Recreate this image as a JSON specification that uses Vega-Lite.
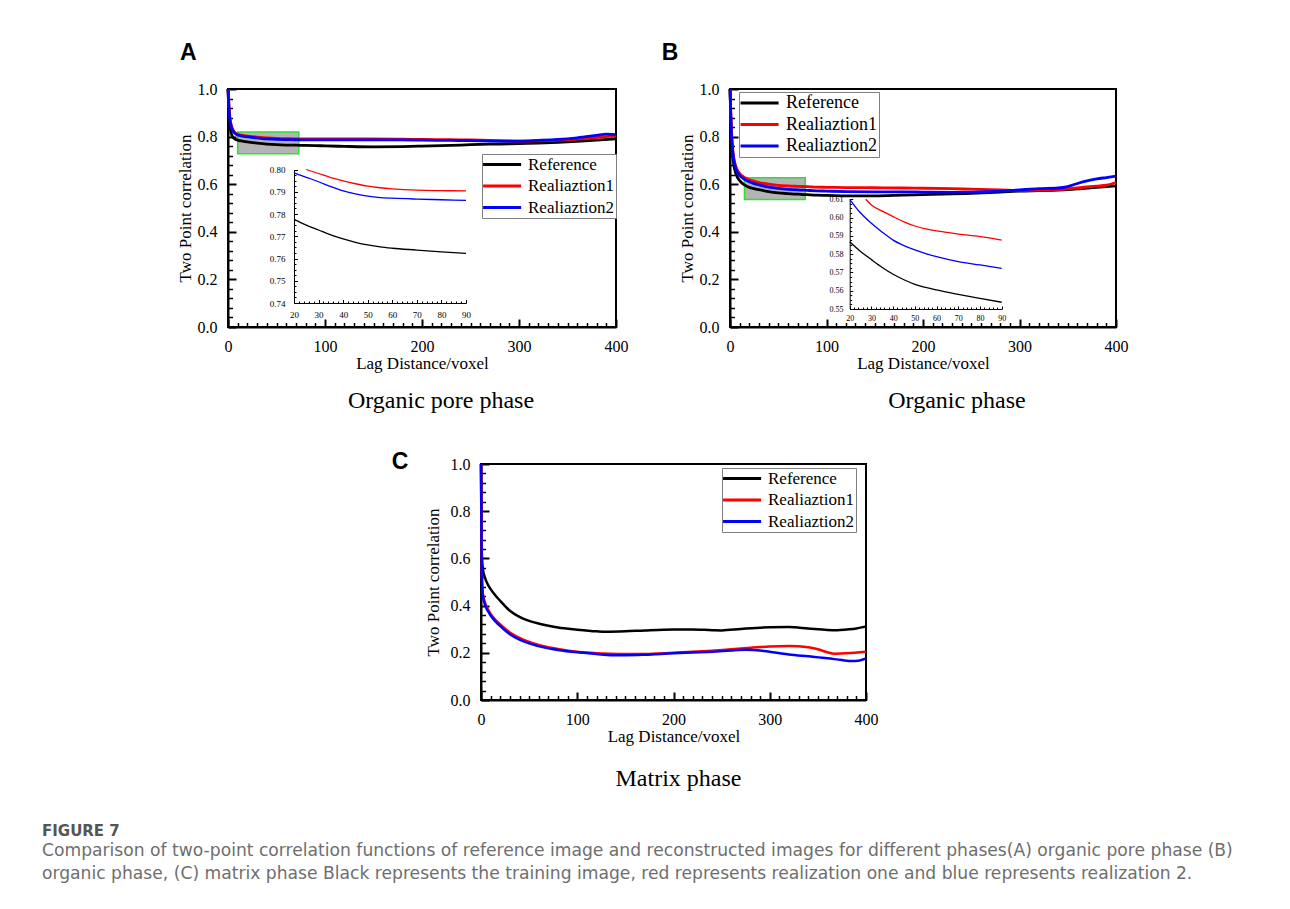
{
"$schema": "https://vega.github.io/schema/vega-lite/v6.json",
"autosize": {"type": "pad"},
"padding": {"left": 42, "top": 41, "right": 10, "bottom": 10},
"background": "white",
"datasets": {
"A_box": [{"x1": 10, "x2": 73, "y1": 0.728, "y2": 0.819}],
"B_box": [{"x1": 15, "x2": 78, "y1": 0.536, "y2": 0.627}],
"A_main": [
{"s":"Reference","x":0,"y":1.0},{"s":"Reference","x":1,"y":0.90},{"s":"Reference","x":2,"y":0.85},{"s":"Reference","x":3,"y":0.82},{"s":"Reference","x":4,"y":0.806},{"s":"Reference","x":5,"y":0.798},{"s":"Reference","x":7,"y":0.79},{"s":"Reference","x":10,"y":0.785},{"s":"Reference","x":15,"y":0.781},{"s":"Reference","x":20,"y":0.7776},{"s":"Reference","x":30,"y":0.7728},{"s":"Reference","x":40,"y":0.7688},{"s":"Reference","x":50,"y":0.7661},{"s":"Reference","x":60,"y":0.7646},{"s":"Reference","x":70,"y":0.7638},{"s":"Reference","x":80,"y":0.763},{"s":"Reference","x":90,"y":0.7623},{"s":"Reference","x":100,"y":0.761},{"s":"Reference","x":120,"y":0.759},{"s":"Reference","x":150,"y":0.757},{"s":"Reference","x":180,"y":0.758},{"s":"Reference","x":200,"y":0.760},{"s":"Reference","x":230,"y":0.763},{"s":"Reference","x":250,"y":0.766},{"s":"Reference","x":280,"y":0.769},{"s":"Reference","x":300,"y":0.771},{"s":"Reference","x":320,"y":0.773},{"s":"Reference","x":340,"y":0.776},{"s":"Reference","x":360,"y":0.780},{"s":"Reference","x":380,"y":0.785},{"s":"Reference","x":400,"y":0.791},
{"s":"Realiaztion1","x":0,"y":1.0},{"s":"Realiaztion1","x":1,"y":0.93},{"s":"Realiaztion1","x":2,"y":0.88},{"s":"Realiaztion1","x":3,"y":0.855},{"s":"Realiaztion1","x":4,"y":0.84},{"s":"Realiaztion1","x":5,"y":0.83},{"s":"Realiaztion1","x":7,"y":0.818},{"s":"Realiaztion1","x":10,"y":0.81},{"s":"Realiaztion1","x":15,"y":0.805},{"s":"Realiaztion1","x":20,"y":0.8015},{"s":"Realiaztion1","x":25,"y":0.8},{"s":"Realiaztion1","x":30,"y":0.7982},{"s":"Realiaztion1","x":40,"y":0.7949},{"s":"Realiaztion1","x":50,"y":0.7925},{"s":"Realiaztion1","x":60,"y":0.7913},{"s":"Realiaztion1","x":70,"y":0.7907},{"s":"Realiaztion1","x":80,"y":0.7905},{"s":"Realiaztion1","x":90,"y":0.7904},{"s":"Realiaztion1","x":100,"y":0.790},{"s":"Realiaztion1","x":120,"y":0.790},{"s":"Realiaztion1","x":150,"y":0.790},{"s":"Realiaztion1","x":180,"y":0.789},{"s":"Realiaztion1","x":200,"y":0.788},{"s":"Realiaztion1","x":230,"y":0.787},{"s":"Realiaztion1","x":250,"y":0.786},{"s":"Realiaztion1","x":280,"y":0.783},{"s":"Realiaztion1","x":300,"y":0.781},{"s":"Realiaztion1","x":320,"y":0.782},{"s":"Realiaztion1","x":340,"y":0.785},{"s":"Realiaztion1","x":360,"y":0.790},{"s":"Realiaztion1","x":380,"y":0.796},{"s":"Realiaztion1","x":390,"y":0.8},{"s":"Realiaztion1","x":400,"y":0.803},
{"s":"Realiaztion2","x":0,"y":1.0},{"s":"Realiaztion2","x":1,"y":0.92},{"s":"Realiaztion2","x":2,"y":0.87},{"s":"Realiaztion2","x":3,"y":0.848},{"s":"Realiaztion2","x":4,"y":0.834},{"s":"Realiaztion2","x":5,"y":0.825},{"s":"Realiaztion2","x":7,"y":0.814},{"s":"Realiaztion2","x":10,"y":0.807},{"s":"Realiaztion2","x":15,"y":0.802},{"s":"Realiaztion2","x":20,"y":0.7985},{"s":"Realiaztion2","x":30,"y":0.7945},{"s":"Realiaztion2","x":40,"y":0.7904},{"s":"Realiaztion2","x":50,"y":0.788},{"s":"Realiaztion2","x":60,"y":0.7871},{"s":"Realiaztion2","x":70,"y":0.7867},{"s":"Realiaztion2","x":80,"y":0.7864},{"s":"Realiaztion2","x":90,"y":0.7861},{"s":"Realiaztion2","x":100,"y":0.786},{"s":"Realiaztion2","x":120,"y":0.786},{"s":"Realiaztion2","x":150,"y":0.786},{"s":"Realiaztion2","x":180,"y":0.786},{"s":"Realiaztion2","x":200,"y":0.785},{"s":"Realiaztion2","x":230,"y":0.784},{"s":"Realiaztion2","x":250,"y":0.783},{"s":"Realiaztion2","x":280,"y":0.781},{"s":"Realiaztion2","x":300,"y":0.781},{"s":"Realiaztion2","x":320,"y":0.784},{"s":"Realiaztion2","x":340,"y":0.788},{"s":"Realiaztion2","x":360,"y":0.795},{"s":"Realiaztion2","x":380,"y":0.805},{"s":"Realiaztion2","x":390,"y":0.81},{"s":"Realiaztion2","x":400,"y":0.808}
],
"A_inset": [
{"s":"Reference","x":20,"y":0.7776},{"s":"Reference","x":25,"y":0.775},{"s":"Reference","x":30,"y":0.7728},{"s":"Reference","x":35,"y":0.7706},{"s":"Reference","x":40,"y":0.7688},{"s":"Reference","x":45,"y":0.7673},{"s":"Reference","x":50,"y":0.7661},{"s":"Reference","x":55,"y":0.7652},{"s":"Reference","x":60,"y":0.7646},{"s":"Reference","x":70,"y":0.7638},{"s":"Reference","x":80,"y":0.763},{"s":"Reference","x":90,"y":0.7623},
{"s":"Realiaztion1","x":25,"y":0.8},{"s":"Realiaztion1","x":30,"y":0.7982},{"s":"Realiaztion1","x":35,"y":0.7964},{"s":"Realiaztion1","x":40,"y":0.7949},{"s":"Realiaztion1","x":45,"y":0.7936},{"s":"Realiaztion1","x":50,"y":0.7925},{"s":"Realiaztion1","x":55,"y":0.7918},{"s":"Realiaztion1","x":60,"y":0.7913},{"s":"Realiaztion1","x":70,"y":0.7907},{"s":"Realiaztion1","x":80,"y":0.7905},{"s":"Realiaztion1","x":90,"y":0.7904},
{"s":"Realiaztion2","x":20,"y":0.7985},{"s":"Realiaztion2","x":25,"y":0.7965},{"s":"Realiaztion2","x":30,"y":0.7945},{"s":"Realiaztion2","x":35,"y":0.7923},{"s":"Realiaztion2","x":40,"y":0.7904},{"s":"Realiaztion2","x":45,"y":0.789},{"s":"Realiaztion2","x":50,"y":0.788},{"s":"Realiaztion2","x":55,"y":0.7874},{"s":"Realiaztion2","x":60,"y":0.7871},{"s":"Realiaztion2","x":70,"y":0.7867},{"s":"Realiaztion2","x":80,"y":0.7864},{"s":"Realiaztion2","x":90,"y":0.7861}
],
"B_main": [
{"s":"Reference","x":0,"y":1.0},{"s":"Reference","x":1,"y":0.85},{"s":"Reference","x":2,"y":0.76},{"s":"Reference","x":3,"y":0.71},{"s":"Reference","x":4,"y":0.68},{"s":"Reference","x":5,"y":0.66},{"s":"Reference","x":7,"y":0.635},{"s":"Reference","x":10,"y":0.615},{"s":"Reference","x":15,"y":0.597},{"s":"Reference","x":20,"y":0.5868},{"s":"Reference","x":25,"y":0.5815},{"s":"Reference","x":30,"y":0.577},{"s":"Reference","x":40,"y":0.569},{"s":"Reference","x":50,"y":0.5635},{"s":"Reference","x":60,"y":0.5604},{"s":"Reference","x":70,"y":0.558},{"s":"Reference","x":80,"y":0.5558},{"s":"Reference","x":90,"y":0.5537},{"s":"Reference","x":100,"y":0.553},{"s":"Reference","x":120,"y":0.551},{"s":"Reference","x":150,"y":0.551},{"s":"Reference","x":180,"y":0.554},{"s":"Reference","x":200,"y":0.556},{"s":"Reference","x":230,"y":0.559},{"s":"Reference","x":250,"y":0.562},{"s":"Reference","x":280,"y":0.567},{"s":"Reference","x":300,"y":0.571},{"s":"Reference","x":320,"y":0.573},{"s":"Reference","x":340,"y":0.575},{"s":"Reference","x":360,"y":0.58},{"s":"Reference","x":380,"y":0.587},{"s":"Reference","x":400,"y":0.593},
{"s":"Realiaztion1","x":0,"y":1.0},{"s":"Realiaztion1","x":1,"y":0.88},{"s":"Realiaztion1","x":2,"y":0.79},{"s":"Realiaztion1","x":3,"y":0.74},{"s":"Realiaztion1","x":4,"y":0.71},{"s":"Realiaztion1","x":5,"y":0.69},{"s":"Realiaztion1","x":7,"y":0.665},{"s":"Realiaztion1","x":10,"y":0.645},{"s":"Realiaztion1","x":15,"y":0.628},{"s":"Realiaztion1","x":20,"y":0.618},{"s":"Realiaztion1","x":25,"y":0.613},{"s":"Realiaztion1","x":30,"y":0.6069},{"s":"Realiaztion1","x":40,"y":0.6005},{"s":"Realiaztion1","x":50,"y":0.5954},{"s":"Realiaztion1","x":60,"y":0.5927},{"s":"Realiaztion1","x":70,"y":0.591},{"s":"Realiaztion1","x":80,"y":0.5896},{"s":"Realiaztion1","x":90,"y":0.5877},{"s":"Realiaztion1","x":100,"y":0.587},{"s":"Realiaztion1","x":120,"y":0.586},{"s":"Realiaztion1","x":150,"y":0.585},{"s":"Realiaztion1","x":180,"y":0.584},{"s":"Realiaztion1","x":200,"y":0.583},{"s":"Realiaztion1","x":230,"y":0.581},{"s":"Realiaztion1","x":250,"y":0.579},{"s":"Realiaztion1","x":280,"y":0.576},{"s":"Realiaztion1","x":300,"y":0.574},{"s":"Realiaztion1","x":320,"y":0.574},{"s":"Realiaztion1","x":340,"y":0.577},{"s":"Realiaztion1","x":360,"y":0.585},{"s":"Realiaztion1","x":380,"y":0.592},{"s":"Realiaztion1","x":390,"y":0.596},{"s":"Realiaztion1","x":400,"y":0.607},
{"s":"Realiaztion2","x":0,"y":1.0},{"s":"Realiaztion2","x":1,"y":0.87},{"s":"Realiaztion2","x":2,"y":0.78},{"s":"Realiaztion2","x":3,"y":0.73},{"s":"Realiaztion2","x":4,"y":0.70},{"s":"Realiaztion2","x":5,"y":0.68},{"s":"Realiaztion2","x":7,"y":0.655},{"s":"Realiaztion2","x":10,"y":0.637},{"s":"Realiaztion2","x":15,"y":0.62},{"s":"Realiaztion2","x":20,"y":0.61},{"s":"Realiaztion2","x":25,"y":0.6025},{"s":"Realiaztion2","x":30,"y":0.5969},{"s":"Realiaztion2","x":40,"y":0.5877},{"s":"Realiaztion2","x":50,"y":0.5823},{"s":"Realiaztion2","x":60,"y":0.5786},{"s":"Realiaztion2","x":70,"y":0.5759},{"s":"Realiaztion2","x":80,"y":0.5741},{"s":"Realiaztion2","x":90,"y":0.5722},{"s":"Realiaztion2","x":100,"y":0.571},{"s":"Realiaztion2","x":120,"y":0.569},{"s":"Realiaztion2","x":150,"y":0.568},{"s":"Realiaztion2","x":180,"y":0.568},{"s":"Realiaztion2","x":200,"y":0.567},{"s":"Realiaztion2","x":230,"y":0.566},{"s":"Realiaztion2","x":250,"y":0.567},{"s":"Realiaztion2","x":280,"y":0.571},{"s":"Realiaztion2","x":300,"y":0.576},{"s":"Realiaztion2","x":320,"y":0.581},{"s":"Realiaztion2","x":340,"y":0.584},{"s":"Realiaztion2","x":350,"y":0.59},{"s":"Realiaztion2","x":360,"y":0.603},{"s":"Realiaztion2","x":370,"y":0.614},{"s":"Realiaztion2","x":380,"y":0.622},{"s":"Realiaztion2","x":390,"y":0.628},{"s":"Realiaztion2","x":400,"y":0.634}
],
"B_inset": [
{"s":"Reference","x":20,"y":0.5868},{"s":"Reference","x":25,"y":0.5815},{"s":"Reference","x":30,"y":0.577},{"s":"Reference","x":35,"y":0.5727},{"s":"Reference","x":40,"y":0.569},{"s":"Reference","x":45,"y":0.566},{"s":"Reference","x":50,"y":0.5635},{"s":"Reference","x":55,"y":0.5618},{"s":"Reference","x":60,"y":0.5604},{"s":"Reference","x":70,"y":0.558},{"s":"Reference","x":80,"y":0.5558},{"s":"Reference","x":90,"y":0.5537},
{"s":"Realiaztion1","x":27.4,"y":0.61},{"s":"Realiaztion1","x":30,"y":0.6069},{"s":"Realiaztion1","x":35,"y":0.6035},{"s":"Realiaztion1","x":40,"y":0.6005},{"s":"Realiaztion1","x":45,"y":0.5977},{"s":"Realiaztion1","x":50,"y":0.5954},{"s":"Realiaztion1","x":55,"y":0.5938},{"s":"Realiaztion1","x":60,"y":0.5927},{"s":"Realiaztion1","x":70,"y":0.591},{"s":"Realiaztion1","x":80,"y":0.5896},{"s":"Realiaztion1","x":90,"y":0.5877},
{"s":"Realiaztion2","x":20,"y":0.61},{"s":"Realiaztion2","x":25,"y":0.6025},{"s":"Realiaztion2","x":30,"y":0.5969},{"s":"Realiaztion2","x":35,"y":0.592},{"s":"Realiaztion2","x":40,"y":0.5877},{"s":"Realiaztion2","x":45,"y":0.5847},{"s":"Realiaztion2","x":50,"y":0.5823},{"s":"Realiaztion2","x":55,"y":0.5803},{"s":"Realiaztion2","x":60,"y":0.5786},{"s":"Realiaztion2","x":70,"y":0.5759},{"s":"Realiaztion2","x":80,"y":0.5741},{"s":"Realiaztion2","x":90,"y":0.5722}
],
"C_main": [
{"s":"Reference","x":0,"y":1.0},{"s":"Reference","x":0.5,"y":0.75},{"s":"Reference","x":1,"y":0.6},{"s":"Reference","x":2,"y":0.555},{"s":"Reference","x":4,"y":0.52},{"s":"Reference","x":7,"y":0.49},{"s":"Reference","x":10,"y":0.47},{"s":"Reference","x":15,"y":0.443},{"s":"Reference","x":20,"y":0.42},{"s":"Reference","x":30,"y":0.378},{"s":"Reference","x":40,"y":0.352},{"s":"Reference","x":50,"y":0.335},{"s":"Reference","x":65,"y":0.319},{"s":"Reference","x":80,"y":0.307},{"s":"Reference","x":100,"y":0.298},{"s":"Reference","x":120,"y":0.291},{"s":"Reference","x":130,"y":0.289},{"s":"Reference","x":150,"y":0.291},{"s":"Reference","x":170,"y":0.295},{"s":"Reference","x":200,"y":0.299},{"s":"Reference","x":220,"y":0.299},{"s":"Reference","x":240,"y":0.296},{"s":"Reference","x":250,"y":0.295},{"s":"Reference","x":270,"y":0.301},{"s":"Reference","x":300,"y":0.308},{"s":"Reference","x":320,"y":0.309},{"s":"Reference","x":340,"y":0.303},{"s":"Reference","x":360,"y":0.297},{"s":"Reference","x":370,"y":0.296},{"s":"Reference","x":380,"y":0.299},{"s":"Reference","x":390,"y":0.303},{"s":"Reference","x":400,"y":0.312},
{"s":"Realiaztion1","x":0,"y":1.0},{"s":"Realiaztion1","x":0.5,"y":0.7},{"s":"Realiaztion1","x":1,"y":0.52},{"s":"Realiaztion1","x":2,"y":0.45},{"s":"Realiaztion1","x":4,"y":0.415},{"s":"Realiaztion1","x":7,"y":0.385},{"s":"Realiaztion1","x":10,"y":0.365},{"s":"Realiaztion1","x":15,"y":0.34},{"s":"Realiaztion1","x":20,"y":0.32},{"s":"Realiaztion1","x":30,"y":0.286},{"s":"Realiaztion1","x":40,"y":0.263},{"s":"Realiaztion1","x":50,"y":0.246},{"s":"Realiaztion1","x":65,"y":0.228},{"s":"Realiaztion1","x":80,"y":0.216},{"s":"Realiaztion1","x":100,"y":0.204},{"s":"Realiaztion1","x":120,"y":0.198},{"s":"Realiaztion1","x":135,"y":0.196},{"s":"Realiaztion1","x":150,"y":0.195},{"s":"Realiaztion1","x":170,"y":0.195},{"s":"Realiaztion1","x":200,"y":0.2},{"s":"Realiaztion1","x":220,"y":0.204},{"s":"Realiaztion1","x":240,"y":0.209},{"s":"Realiaztion1","x":260,"y":0.215},{"s":"Realiaztion1","x":280,"y":0.221},{"s":"Realiaztion1","x":300,"y":0.227},{"s":"Realiaztion1","x":320,"y":0.229},{"s":"Realiaztion1","x":340,"y":0.224},{"s":"Realiaztion1","x":350,"y":0.215},{"s":"Realiaztion1","x":360,"y":0.202},{"s":"Realiaztion1","x":367,"y":0.196},{"s":"Realiaztion1","x":380,"y":0.198},{"s":"Realiaztion1","x":400,"y":0.204},
{"s":"Realiaztion2","x":0,"y":1.0},{"s":"Realiaztion2","x":0.5,"y":0.68},{"s":"Realiaztion2","x":1,"y":0.5},{"s":"Realiaztion2","x":2,"y":0.44},{"s":"Realiaztion2","x":4,"y":0.405},{"s":"Realiaztion2","x":7,"y":0.378},{"s":"Realiaztion2","x":10,"y":0.358},{"s":"Realiaztion2","x":15,"y":0.333},{"s":"Realiaztion2","x":20,"y":0.313},{"s":"Realiaztion2","x":30,"y":0.279},{"s":"Realiaztion2","x":40,"y":0.256},{"s":"Realiaztion2","x":50,"y":0.24},{"s":"Realiaztion2","x":65,"y":0.223},{"s":"Realiaztion2","x":80,"y":0.212},{"s":"Realiaztion2","x":100,"y":0.202},{"s":"Realiaztion2","x":120,"y":0.195},{"s":"Realiaztion2","x":135,"y":0.19},{"s":"Realiaztion2","x":150,"y":0.19},{"s":"Realiaztion2","x":170,"y":0.192},{"s":"Realiaztion2","x":200,"y":0.198},{"s":"Realiaztion2","x":220,"y":0.201},{"s":"Realiaztion2","x":240,"y":0.204},{"s":"Realiaztion2","x":260,"y":0.21},{"s":"Realiaztion2","x":275,"y":0.213},{"s":"Realiaztion2","x":290,"y":0.21},{"s":"Realiaztion2","x":300,"y":0.204},{"s":"Realiaztion2","x":320,"y":0.193},{"s":"Realiaztion2","x":340,"y":0.185},{"s":"Realiaztion2","x":360,"y":0.177},{"s":"Realiaztion2","x":375,"y":0.169},{"s":"Realiaztion2","x":385,"y":0.165},{"s":"Realiaztion2","x":392,"y":0.166},{"s":"Realiaztion2","x":400,"y":0.176}
]
},
"vconcat": [
{
"hconcat": [
{
"width": 388, "height": 238,
"title": {"text": "Organic pore phase", "orient": "bottom", "frame": "group", "anchor": "middle", "dx": 19, "offset": 18, "font": "Liberation Serif", "fontSize": 24, "fontWeight": "normal", "color": "#000000"},
"layer": [
{
"layer": [
{"data": {"name": "A_box"}, "mark": {"type": "rect", "fill": "#b4b4b4", "stroke": "#2ee02e", "strokeWidth": 1.5},
 "encoding": {
  "x": {"field": "x1", "type": "quantitative", "scale": {"domain": [0, 400], "nice": false, "zero": false}, "axis": null},
  "x2": {"field": "x2"},
  "y": {"field": "y1", "type": "quantitative", "scale": {"domain": [0, 1], "nice": false, "zero": false}, "axis": null},
  "y2": {"field": "y2"}}},
{"data": {"name": "A_main"}, "mark": {"type": "line", "strokeWidth": 2.8, "interpolate": "monotone"},
 "encoding": {
  "x": {"field": "x", "type": "quantitative", "scale": {"domain": [0, 400], "nice": false, "zero": false},
        "axis": {"orient": "bottom", "values": [0, 100, 200, 300, 400], "format": "d", "title": "Lag Distance/voxel", "tickSize": -8, "labelPadding": 19, "titlePadding": 1}},
  "y": {"field": "y", "type": "quantitative", "scale": {"domain": [0, 1], "nice": false, "zero": false},
        "axis": {"orient": "left", "values": [0, 0.2, 0.4, 0.6, 0.8, 1], "format": ".1f", "title": "Two Point correlation", "tickSize": -8, "labelPadding": 19, "titlePadding": 3}},
  "color": {"field": "s", "type": "nominal", "scale": {"domain": ["Reference", "Realiaztion1", "Realiaztion2"], "range": ["#000000", "#ff0000", "#0000ff"]},
        "legend": {"orient": "none", "legendX": 254, "legendY": 65, "labelFontSize": 17}}}},
{"data": {"values": [{"label": "A"}]}, "mark": {"type": "text", "font": "Liberation Sans", "fontWeight": "bold", "fontSize": 23, "align": "center", "baseline": "middle", "color": "#000000"},
 "encoding": {
  "text": {"field": "label"},
  "x": {"datum": -41, "type": "quantitative", "scale": {"domain": [0, 400], "nice": false, "zero": false},
        "axis": {"orient": "bottom", "values": [10,20,30,40,50,60,70,80,90,110,120,130,140,150,160,170,180,190,210,220,230,240,250,260,270,280,290,310,320,330,340,350,360,370,380,390], "labels": false, "domain": false, "tickSize": -4.5, "tickWidth": 1.5, "title": null}},
  "y": {"datum": 1.15, "type": "quantitative", "scale": {"domain": [0, 1], "nice": false, "zero": false},
        "axis": {"orient": "left", "values": [0.04,0.08,0.12,0.16,0.24,0.28,0.32,0.36,0.44,0.48,0.52,0.56,0.64,0.68,0.72,0.76,0.84,0.88,0.92,0.96], "labels": false, "domain": false, "tickSize": -4.5, "tickWidth": 1.5, "title": null}}}}
],
"resolve": {"axis": {"x": "independent", "y": "independent"}}
},
{
"layer": [
{"data": {"name": "A_inset"}, "mark": {"type": "line", "strokeWidth": 1.3, "interpolate": "monotone"},
 "encoding": {
  "x": {"field": "x", "type": "quantitative", "scale": {"domain": [20, 90], "range": [66, 238], "nice": false, "zero": false},
        "axis": {"orient": "bottom", "offset": -24, "values": [20,30,40,50,60,70,80,90], "format": "d", "title": null, "labelFontSize": 9, "tickSize": -3.5, "tickWidth": 1, "domainWidth": 1, "labelPadding": 11}},
  "y": {"field": "y", "type": "quantitative", "scale": {"domain": [0.74, 0.8], "range": [214, 80.5], "nice": false, "zero": false},
        "axis": {"orient": "left", "offset": -66, "values": [0.74,0.75,0.76,0.77,0.78,0.79,0.8], "format": ".2f", "title": null, "labelFontSize": 9, "tickSize": -3.5, "tickWidth": 1, "domainWidth": 1, "labelPadding": 12.5}},
  "color": {"field": "s", "type": "nominal", "scale": {"domain": ["Reference", "Realiaztion1", "Realiaztion2"], "range": ["#000000", "#ff0000", "#0000ff"]}, "legend": null}}},
{"data": {"values": [{"label": ""}]}, "mark": {"type": "text"},
 "encoding": {
  "text": {"field": "label"},
  "x": {"datum": 20, "type": "quantitative", "scale": {"domain": [20, 90], "range": [66, 238], "nice": false, "zero": false},
        "axis": {"orient": "bottom", "offset": -24, "values": [22,24,26,28,32,34,36,38,42,44,46,48,52,54,56,58,62,64,66,68,72,74,76,78,82,84,86,88], "labels": false, "domain": false, "tickSize": -2, "tickWidth": 1, "title": null}},
  "y": {"datum": 0.74, "type": "quantitative", "scale": {"domain": [0.74, 0.8], "range": [214, 80.5], "nice": false, "zero": false},
        "axis": {"orient": "left", "offset": -66, "values": [0.7425,0.745,0.7475,0.7525,0.755,0.7575,0.7625,0.765,0.7675,0.7725,0.775,0.7775,0.7825,0.785,0.7875,0.7925,0.795,0.7975], "labels": false, "domain": false, "tickSize": -2, "tickWidth": 1, "title": null}}}}
],
"resolve": {"axis": {"x": "independent", "y": "independent"}}
}
],
"resolve": {"scale": {"x": "independent", "y": "independent", "color": "independent"}, "axis": {"x": "independent", "y": "independent"}, "legend": {"color": "independent"}}
},
{
"width": 386, "height": 238,
"title": {"text": "Organic phase", "orient": "bottom", "frame": "group", "anchor": "middle", "dx": 34, "offset": 18, "font": "Liberation Serif", "fontSize": 24, "fontWeight": "normal", "color": "#000000"},
"layer": [
{
"layer": [
{"data": {"name": "B_box"}, "mark": {"type": "rect", "fill": "#b4b4b4", "stroke": "#2ee02e", "strokeWidth": 1.5},
 "encoding": {
  "x": {"field": "x1", "type": "quantitative", "scale": {"domain": [0, 400], "nice": false, "zero": false}, "axis": null},
  "x2": {"field": "x2"},
  "y": {"field": "y1", "type": "quantitative", "scale": {"domain": [0, 1], "nice": false, "zero": false}, "axis": null},
  "y2": {"field": "y2"}}},
{"data": {"name": "B_main"}, "mark": {"type": "line", "strokeWidth": 2.8, "interpolate": "monotone"},
 "encoding": {
  "x": {"field": "x", "type": "quantitative", "scale": {"domain": [0, 400], "nice": false, "zero": false},
        "axis": {"orient": "bottom", "values": [0, 100, 200, 300, 400], "format": "d", "title": "Lag Distance/voxel", "tickSize": -8, "labelPadding": 19, "titlePadding": 1}},
  "y": {"field": "y", "type": "quantitative", "scale": {"domain": [0, 1], "nice": false, "zero": false},
        "axis": {"orient": "left", "values": [0, 0.2, 0.4, 0.6, 0.8, 1], "format": ".1f", "title": "Two Point correlation", "tickSize": -8, "labelPadding": 19, "titlePadding": 3}},
  "color": {"field": "s", "type": "nominal", "scale": {"domain": ["Reference", "Realiaztion1", "Realiaztion2"], "range": ["#000000", "#ff0000", "#0000ff"]},
        "legend": {"orient": "none", "legendX": 9, "legendY": 3, "labelFontSize": 18}}}},
{"data": {"values": [{"label": "B"}]}, "mark": {"type": "text", "font": "Liberation Sans", "fontWeight": "bold", "fontSize": 23, "align": "center", "baseline": "middle", "color": "#000000"},
 "encoding": {
  "text": {"field": "label"},
  "x": {"datum": -62, "type": "quantitative", "scale": {"domain": [0, 400], "nice": false, "zero": false},
        "axis": {"orient": "bottom", "values": [10,20,30,40,50,60,70,80,90,110,120,130,140,150,160,170,180,190,210,220,230,240,250,260,270,280,290,310,320,330,340,350,360,370,380,390], "labels": false, "domain": false, "tickSize": -4.5, "tickWidth": 1.5, "title": null}},
  "y": {"datum": 1.15, "type": "quantitative", "scale": {"domain": [0, 1], "nice": false, "zero": false},
        "axis": {"orient": "left", "values": [0.04,0.08,0.12,0.16,0.24,0.28,0.32,0.36,0.44,0.48,0.52,0.56,0.64,0.68,0.72,0.76,0.84,0.88,0.92,0.96], "labels": false, "domain": false, "tickSize": -4.5, "tickWidth": 1.5, "title": null}}}}
],
"resolve": {"axis": {"x": "independent", "y": "independent"}}
},
{
"layer": [
{"data": {"name": "B_inset"}, "mark": {"type": "line", "strokeWidth": 1.3, "interpolate": "monotone"},
 "encoding": {
  "x": {"field": "x", "type": "quantitative", "scale": {"domain": [20, 90], "range": [119.7, 271.7], "nice": false, "zero": false},
        "axis": {"orient": "bottom", "offset": -18, "values": [20,30,40,50,60,70,80,90], "format": "d", "title": null, "labelFontSize": 8, "tickSize": -3, "tickWidth": 1, "domainWidth": 1, "labelPadding": 8.5}},
  "y": {"field": "y", "type": "quantitative", "scale": {"domain": [0.55, 0.61], "range": [220, 110.3], "nice": false, "zero": false},
        "axis": {"orient": "left", "offset": -119.7, "values": [0.55,0.56,0.57,0.58,0.59,0.6,0.61], "format": ".2f", "title": null, "labelFontSize": 8, "tickSize": -3, "tickWidth": 1, "domainWidth": 1, "labelPadding": 9.7}},
  "color": {"field": "s", "type": "nominal", "scale": {"domain": ["Reference", "Realiaztion1", "Realiaztion2"], "range": ["#000000", "#ff0000", "#0000ff"]}, "legend": null}}},
{"data": {"values": [{"label": ""}]}, "mark": {"type": "text"},
 "encoding": {
  "text": {"field": "label"},
  "x": {"datum": 20, "type": "quantitative", "scale": {"domain": [20, 90], "range": [119.7, 271.7], "nice": false, "zero": false},
        "axis": {"orient": "bottom", "offset": -18, "values": [22,24,26,28,32,34,36,38,42,44,46,48,52,54,56,58,62,64,66,68,72,74,76,78,82,84,86,88], "labels": false, "domain": false, "tickSize": -2, "tickWidth": 1, "title": null}},
  "y": {"datum": 0.55, "type": "quantitative", "scale": {"domain": [0.55, 0.61], "range": [220, 110.3], "nice": false, "zero": false},
        "axis": {"orient": "left", "offset": -119.7, "values": [0.5525,0.555,0.5575,0.5625,0.565,0.5675,0.5725,0.575,0.5775,0.5825,0.585,0.5875,0.5925,0.595,0.5975,0.6025,0.605,0.6075], "labels": false, "domain": false, "tickSize": -2, "tickWidth": 1, "title": null}}}}
],
"resolve": {"axis": {"x": "independent", "y": "independent"}}
}
],
"resolve": {"scale": {"x": "independent", "y": "independent", "color": "independent"}, "axis": {"x": "independent", "y": "independent"}, "legend": {"color": "independent"}}
}
],
"spacing": 31,
"resolve": {"scale": {"color": "independent"}, "legend": {"color": "independent"}}
},
{
"hconcat": [
{"width": 162, "height": 10, "view": {"stroke": null}, "data": {"values": []}, "mark": "point"},
{
"width": 385, "height": 236,
"title": {"text": "Matrix phase", "orient": "bottom", "frame": "group", "anchor": "middle", "dx": 5, "offset": 23, "font": "Liberation Serif", "fontSize": 24, "fontWeight": "normal", "color": "#000000"},
"layer": [
{"data": {"name": "C_main"}, "mark": {"type": "line", "strokeWidth": 2.5, "interpolate": "monotone"},
 "encoding": {
  "x": {"field": "x", "type": "quantitative", "scale": {"domain": [0, 400], "nice": false, "zero": false},
        "axis": {"orient": "bottom", "values": [0, 100, 200, 300, 400], "format": "d", "title": "Lag Distance/voxel", "tickSize": -8, "labelPadding": 19, "titlePadding": 1}},
  "y": {"field": "y", "type": "quantitative", "scale": {"domain": [0, 1], "nice": false, "zero": false},
        "axis": {"orient": "left", "values": [0, 0.2, 0.4, 0.6, 0.8, 1], "format": ".1f", "title": "Two Point correlation", "tickSize": -8, "labelPadding": 19, "titlePadding": 8}},
  "color": {"field": "s", "type": "nominal", "scale": {"domain": ["Reference", "Realiaztion1", "Realiaztion2"], "range": ["#000000", "#ff0000", "#0000ff"]},
        "legend": {"orient": "none", "legendX": 241, "legendY": 4, "labelFontSize": 17}}}},
{"data": {"values": [{"label": "C"}]}, "mark": {"type": "text", "font": "Liberation Sans", "fontWeight": "bold", "fontSize": 23, "align": "center", "baseline": "middle", "color": "#000000"},
 "encoding": {
  "text": {"field": "label"},
  "x": {"datum": -84, "type": "quantitative", "scale": {"domain": [0, 400], "nice": false, "zero": false},
        "axis": {"orient": "bottom", "values": [10,20,30,40,50,60,70,80,90,110,120,130,140,150,160,170,180,190,210,220,230,240,250,260,270,280,290,310,320,330,340,350,360,370,380,390], "labels": false, "domain": false, "tickSize": -4.5, "tickWidth": 1.5, "title": null}},
  "y": {"datum": 1.008, "type": "quantitative", "scale": {"domain": [0, 1], "nice": false, "zero": false},
        "axis": {"orient": "left", "values": [0.04,0.08,0.12,0.16,0.24,0.28,0.32,0.36,0.44,0.48,0.52,0.56,0.64,0.68,0.72,0.76,0.84,0.88,0.92,0.96], "labels": false, "domain": false, "tickSize": -4.5, "tickWidth": 1.5, "title": null}}}}
],
"resolve": {"axis": {"x": "independent", "y": "independent"}}
}
],
"spacing": 0,
"resolve": {"scale": {"color": "independent"}, "legend": {"color": "independent"}}
}
],
"spacing": 36,
"resolve": {"scale": {"color": "independent"}, "legend": {"color": "independent"}},
"title": {
 "text": "FIGURE 7",
 "subtitle": ["Comparison of two-point correlation functions of reference image and reconstructed images for different phases(A) organic pore phase (B)", "organic phase, (C) matrix phase Black represents the training image, red represents realization one and blue represents realization 2."],
 "orient": "bottom", "anchor": "start", "frame": "bounds", "dx": -133, "offset": 32,
 "font": "DejaVu Sans", "fontSize": 15, "fontWeight": "bold", "color": "#555555",
 "subtitleFont": "DejaVu Sans", "subtitleFontSize": 17.15, "subtitleColor": "#6e6e6e", "subtitlePadding": 3, "subtitleLineHeight": 22.5
},
"config": {
 "view": {"stroke": "#000000", "strokeWidth": 2},
 "axis": {"grid": false, "labelFont": "Liberation Serif", "titleFont": "Liberation Serif", "labelFontSize": 16, "titleFontSize": 17, "titleFontWeight": "normal", "labelColor": "#000000", "titleColor": "#000000", "domainColor": "#000000", "domainWidth": 2, "tickColor": "#000000", "tickWidth": 2, "labelFlush": false, "labelOverlap": false, "labelBound": false},
 "legend": {"title": null, "symbolType": "M-1.45,0H4.4", "symbolSize": 169, "symbolStrokeWidth": 3, "labelFont": "Liberation Serif", "labelColor": "#000000", "labelOffset": 27, "strokeColor": "#7f7f7f", "fillColor": "#ffffff", "padding": 2, "rowPadding": 3.5, "labelLimit": 300}
}
}
